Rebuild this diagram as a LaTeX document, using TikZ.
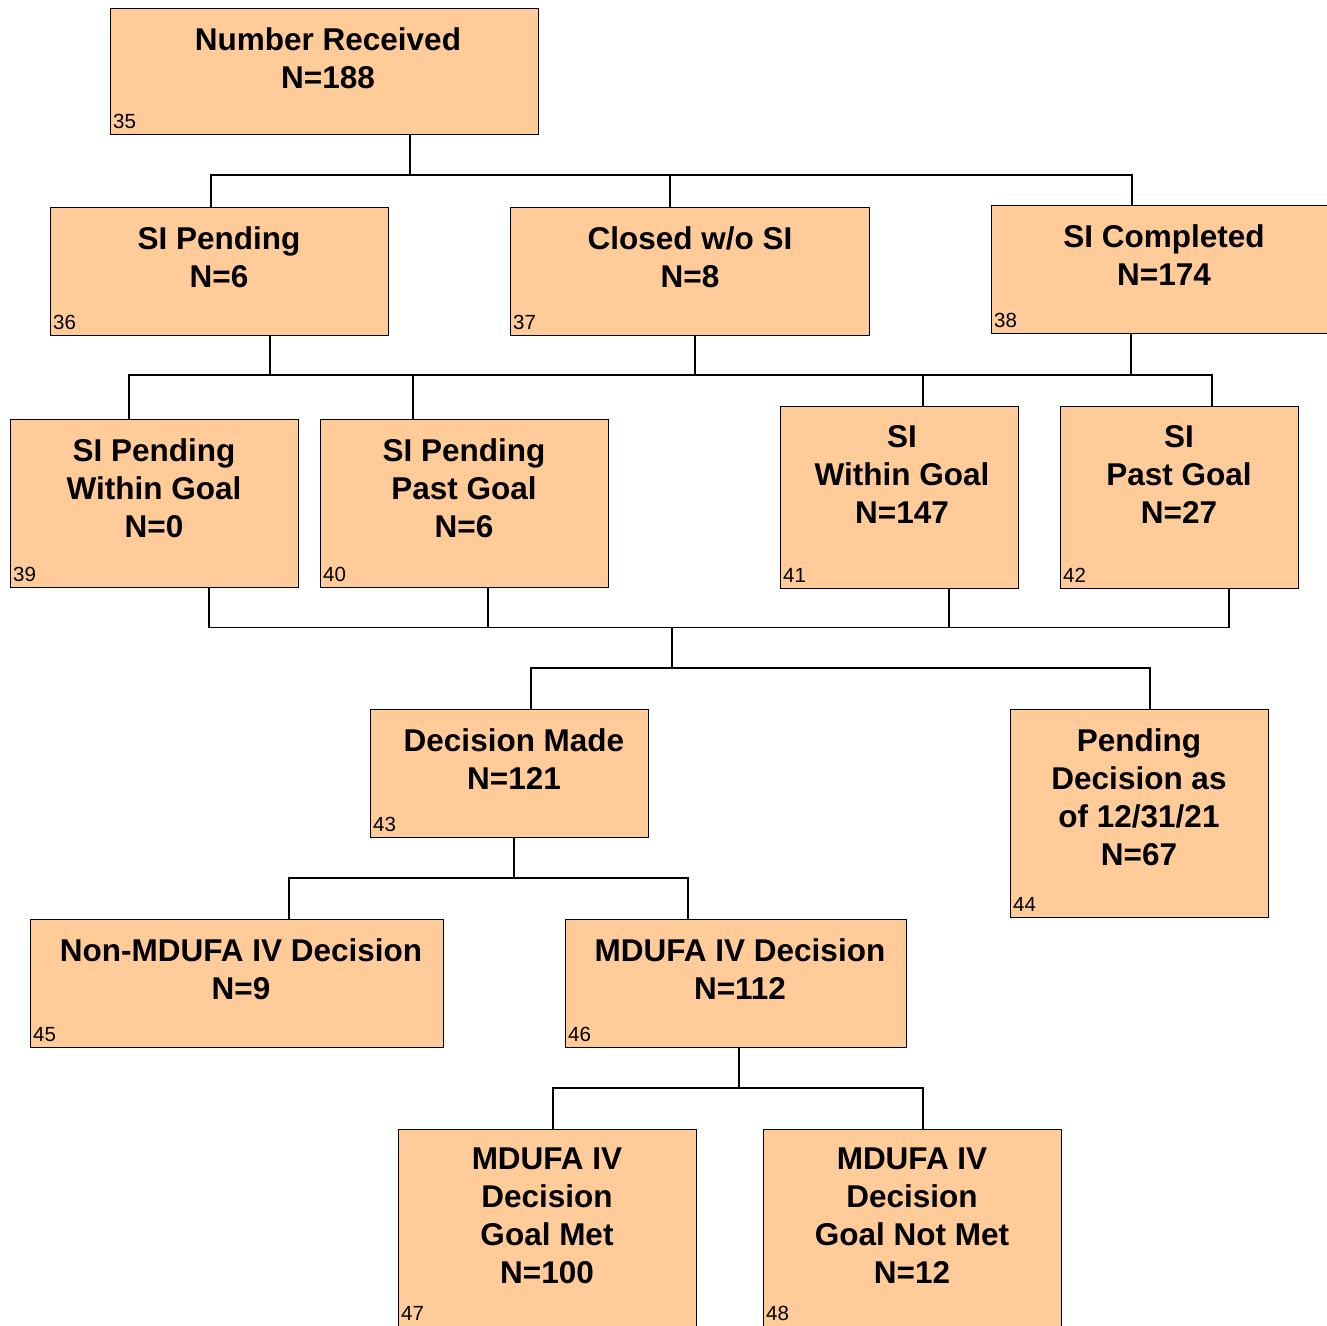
\documentclass[tikz,border=0pt]{standalone}
\usepackage{fontspec}
\setmainfont{Liberation Sans}
\usetikzlibrary{positioning}

\definecolor{boxfill}{HTML}{FFCC99}

\tikzset{
    box/.style={draw, line width=1.2pt, fill=boxfill, inner sep=0pt, anchor=north west},
    boxtext/.style={font=\bfseries\fontsize{31.5}{38}\selectfont, align=center, inner sep=0pt, anchor=north},
    numlabel/.style={font=\fontsize{20.5}{21}\selectfont, inner sep=0pt, anchor=base west},
    link/.style={line width=1.2pt}
}

\begin{document}
\begin{tikzpicture}[x=1pt, y=-1pt]
    \useasboundingbox (0,0) rectangle (1327,1325);
    \clip (0,0) rectangle (1327,1325);

    \foreach \id/\xa/\ya/\xb/\yb/\tx/\txt in {
        35/110/8/538/134/328/{Number Received\\N=188},
        36/50/207/388/335/219/{SI Pending\\N=6},
        37/510/207/869/335/690/{Closed w/o SI\\N=8},
        38/991/205/1337/333/1164/{SI Completed\\N=174},
        39/10/419/298/587/154/{SI Pending\\Within Goal\\N=0},
        40/320/419/608/587/464/{SI Pending\\Past Goal\\N=6},
        41/780/406/1018/588/902/{SI\\Within Goal\\N=147},
        42/1060/406/1298/588/1179/{SI\\Past Goal\\N=27},
        43/370/709/648/837/514/{Decision Made\\N=121},
        44/1010/709/1268/917/1139/{Pending\\Decision as\\of 12/31/21\\N=67},
        45/30/919/443/1047/241/{Non-MDUFA IV Decision\\N=9},
        46/565/919/906/1047/740/{MDUFA IV Decision\\N=112},
        47/398/1129/696/1326/547/{MDUFA IV\\Decision\\Goal Met\\N=100},
        48/763/1129/1061/1326/912/{MDUFA IV\\Decision\\Goal Not Met\\N=12}} {
        \node[box, minimum width={(\xb-\xa)*1pt}, minimum height={(\yb-\ya)*1pt}] (b\id) at (\xa,\ya) {};
        \node[boxtext] (t\id) at (\tx,\ya+19) {\txt};
        \node[numlabel] (n\id) at ([shift={(3pt,6.5pt)}]b\id.south west) {\id};
    }

    \coordinate (bar1) at (0,175);
    \coordinate (bar2) at (0,375);
    \coordinate (bar3) at (0,627.5);
    \coordinate (bar4) at (0,668);
    \coordinate (bar5) at (0,878);
    \coordinate (bar6) at (0,1088);

    \foreach \id/\x in {36/211, 37/670, 38/1132, 39/129, 40/413, 41/923, 42/1212,
                        43/531, 44/1150, 45/289, 46/688, 47/553, 48/923} {
        \coordinate (u\id) at (b\id.north -| \x,0);
    }
    \foreach \id/\x in {35/410, 36/270, 37/695, 38/1131, 39/209, 40/488, 41/949, 42/1229,
                        43/514, 46/739} {
        \coordinate (d\id) at (b\id.south -| \x,0);
    }
    \coordinate (j3) at (bar3 -| 672,0);

    \draw[link] (d35) -- (d35 |- bar1);
    \draw[link] (u36) |- (bar1 -| u38) -- (u38);
    \draw[link] (u37) -- (u37 |- bar1);

    \foreach \n in {36,37,38} {
        \draw[link] (d\n) -- (d\n |- bar2);
    }
    \draw[link] (u39) |- (bar2 -| u42) -- (u42);
    \foreach \n in {40,41} {
        \draw[link] (u\n) -- (u\n |- bar2);
    }

    \draw[link] (d39) |- (bar3 -| d42) -- (d42);
    \foreach \n in {40,41} {
        \draw[link] (d\n) -- (d\n |- bar3);
    }
    \draw[link] (j3) -- (j3 |- bar4);
    \draw[link] (u43) |- (bar4 -| u44) -- (u44);

    \draw[link] (d43) -- (d43 |- bar5);
    \draw[link] (u45) |- (bar5 -| u46) -- (u46);

    \draw[link] (d46) -- (d46 |- bar6);
    \draw[link] (u47) |- (bar6 -| u48) -- (u48);
\end{tikzpicture}
\end{document}
